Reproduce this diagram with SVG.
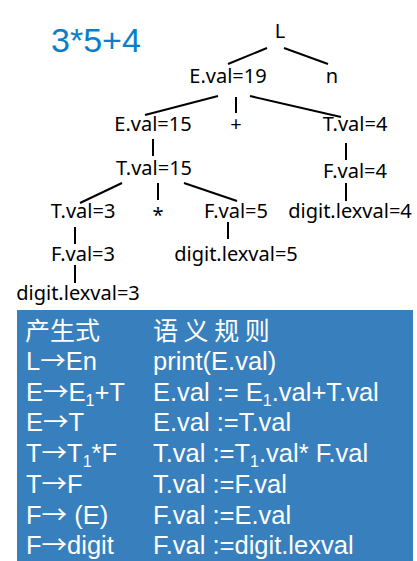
<svg xmlns="http://www.w3.org/2000/svg" width="417" height="561" viewBox="0 0 417 561">
<style>
.n{font-family:"Noto Sans","DejaVu Sans",sans-serif;font-size:20px;fill:#000;text-anchor:middle}
.c line{stroke:#000;stroke-width:2}
.t{font-family:"Liberation Sans",Arial,"Noto Sans CJK SC",sans-serif;font-size:25.5px;fill:#fff}
.cjk{font-family:"Noto Sans CJK SC",sans-serif;font-size:25px;fill:#fff}
.a{font-family:"Noto Sans CJK SC",sans-serif}
.s{font-size:16px}
</style>
<rect width="417" height="561" fill="#fff"/>
<text x="51" y="52" font-family="Liberation Sans,Arial,sans-serif" font-size="34" fill="#0c7ec8">3*5+4</text>
<g class="c">
<line x1="267" y1="48" x2="228" y2="64"/>
<line x1="284" y1="48" x2="328" y2="64"/>
<line x1="218" y1="96" x2="145" y2="115"/>
<line x1="236" y1="97" x2="236" y2="113"/>
<line x1="250" y1="96" x2="341" y2="117"/>
<line x1="153" y1="139" x2="153" y2="156"/>
<line x1="346" y1="143" x2="346" y2="160"/>
<line x1="122" y1="183" x2="80" y2="203"/>
<line x1="158" y1="183" x2="158" y2="200"/>
<line x1="184" y1="183" x2="237" y2="201"/>
<line x1="346" y1="183" x2="346" y2="201"/>
<line x1="75" y1="227" x2="75" y2="244"/>
<line x1="228" y1="222" x2="228" y2="239"/>
<line x1="75" y1="265" x2="75" y2="283"/>
</g>
<g id="L"><text class="n" x="280" y="38">L</text></g>
<g id="E19"><text class="n" x="228" y="83">E.val=19</text></g>
<g id="n"><text class="n" x="332" y="83">n</text></g>
<g id="E15"><text class="n" x="153" y="131">E.val=15</text></g>
<g id="plus"><text class="n" x="236" y="131">+</text></g>
<g id="T4"><text class="n" x="355" y="131">T.val=4</text></g>
<g id="T15"><text class="n" x="154" y="175">T.val=15</text></g>
<g id="F4"><text class="n" x="355" y="178">F.val=4</text></g>
<g id="T3"><text class="n" x="83" y="218">T.val=3</text></g>
<g id="star"><text class="n" x="158" y="222">*</text></g>
<g id="F5"><text class="n" x="236" y="218">F.val=5</text></g>
<g id="d4"><text class="n" x="350" y="218">digit.lexval=4</text></g>
<g id="F3"><text class="n" x="83" y="261">F.val=3</text></g>
<g id="d5"><text class="n" x="236" y="261">digit.lexval=5</text></g>
<g id="d3"><text class="n" x="78" y="300">digit.lexval=3</text></g>
<g id="table">
<rect x="17" y="310" width="396" height="251" fill="#3780bd"/>
<text class="cjk" x="25" y="340">产生式</text>
<text class="cjk" x="153" y="340">语 义 规 则</text>
<text class="t" x="26" y="370">L<tspan class="a">→</tspan>En</text>
<text class="t" x="153" y="370">print(E.val)</text>
<text class="t" x="26" y="401">E<tspan class="a">→</tspan>E<tspan class="s" dy="5">1</tspan><tspan dy="-5">+T</tspan></text>
<text class="t" x="153" y="401">E.val := E<tspan class="s" dy="5">1</tspan><tspan dy="-5">.val+T.val</tspan></text>
<text class="t" x="26" y="431">E<tspan class="a">→</tspan>T</text>
<text class="t" x="153" y="431">E.val :=T.val</text>
<text class="t" x="26" y="462">T<tspan class="a">→</tspan>T<tspan class="s" dy="5">1</tspan><tspan dy="-5">*F</tspan></text>
<text class="t" x="153" y="462">T.val :=T<tspan class="s" dy="5">1</tspan><tspan dy="-5">.val* F.val</tspan></text>
<text class="t" x="26" y="493">T<tspan class="a">→</tspan>F</text>
<text class="t" x="153" y="493">T.val :=F.val</text>
<text class="t" x="26" y="524">F<tspan class="a">→</tspan> (E)</text>
<text class="t" x="153" y="524">F.val :=E.val</text>
<text class="t" x="26" y="554">F<tspan class="a">→</tspan>digit</text>
<text class="t" x="153" y="554">F.val :=digit.lexval</text>
</g>
</svg>
